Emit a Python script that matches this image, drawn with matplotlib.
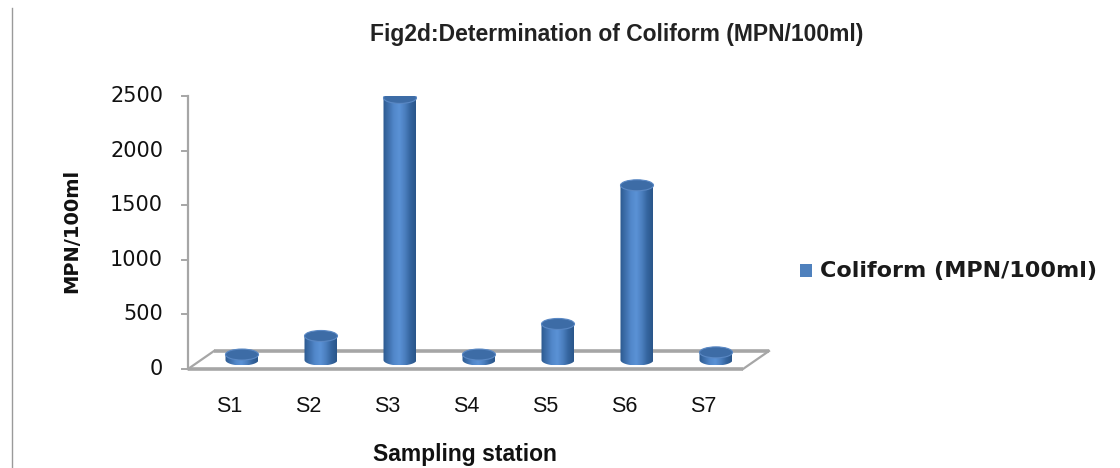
#!/usr/bin/env python3
# -*- coding: utf-8 -*-

# Import Python modules.
import matplotlib
matplotlib.use('Agg')
import matplotlib.pyplot as plt
import numpy as np
from matplotlib.colors import LinearSegmentedColormap
from matplotlib.patches import Polygon, Ellipse
from matplotlib.lines import Line2D


# Chart data.
stations = ['S1', 'S2', 'S3', 'S4', 'S5', 'S6', 'S7']
coliform = [50, 220, 2400, 50, 330, 1600, 70]
y_ticks = [0, 500, 1000, 1500, 2000, 2500]
title = 'Fig2d:Determination of Coliform (MPN/100ml)'
series_name = 'Coliform (MPN/100ml)'

TEXT_FONT = ['Liberation Sans', 'DejaVu Sans']
BAR_BLUE = '#4f81bd'

W, H = 1120, 468
fig = plt.figure(figsize=(W / 100, H / 100), dpi=100)

# Plot area laid out in pixels: y axis at x=188, 0 at y=369, 2500 at y=96.
step = 79.0                 # pixels between categories
x_first = 229.0             # pixel of first category (front plane)
x_left, x_right = 188.0, 790.0
y0_px, ytop_px = 369.0, 96.0
ax = fig.add_axes([x_left / W, (H - y0_px) / H,
                   (x_right - x_left) / W, (y0_px - ytop_px) / H])
xmin = (x_left - x_first) / step
xmax = (x_right - x_first) / step
ymax = 2500.0
per_px = ymax / (y0_px - ytop_px)

# 3-D depth of the floor.
dx = 26.0 / step
dy = 18.0 * per_px
floor_end = (743.0 - x_first) / step

grey = '#a6a6a6'
# Floor outline.
ax.plot([xmin, floor_end], [0, 0], color=grey, lw=2.6, clip_on=False,
        zorder=1, solid_capstyle='butt')
ax.plot([xmin + dx, floor_end + dx], [dy, dy], color=grey, lw=2.6,
        clip_on=False, zorder=1, solid_capstyle='butt')
ax.plot([xmin, xmin + dx], [0, dy], color=grey, lw=1.6, clip_on=False,
        zorder=1)
ax.plot([floor_end, floor_end + dx], [0, dy], color=grey, lw=1.6,
        clip_on=False, zorder=1)

# Value axis.
ax.plot([xmin, xmin], [0, ymax], color=grey, lw=1.6, clip_on=False,
        zorder=1)
for t in y_ticks:
    ax.plot([xmin - 6 / step, xmin], [t, t], color=grey, lw=1.4,
            clip_on=False, zorder=1)
    ax.text(xmin - 25 / step, t, str(t), ha='right', va='center',
            fontsize=15, color='#111111', family='DejaVu Sans')

# Cylinders.
body_cmap = LinearSegmentedColormap.from_list(
    'cyl', ['#2c5a90', '#3f70ad', '#5288cb', '#5b92d6', '#4b7fbf',
            '#35659f', '#2a568a'])
grad = np.linspace(0, 1, 64).reshape(1, -1)
w = 16.5 / step
h = 5.5 * per_px
theta = np.linspace(np.pi, 2 * np.pi, 60)
for i, v in enumerate(coliform):
    cx = i + dx / 2
    yb = dy / 2
    yt = v + dy / 2
    pts = [(cx - w, yt)]
    pts += list(zip(cx + w * np.cos(theta), yb + h * np.sin(theta)))
    pts += [(cx + w, yt)]
    body = Polygon(pts, closed=True, facecolor='none', edgecolor='none',
                   zorder=3)
    ax.add_patch(body)
    im = ax.imshow(grad, cmap=body_cmap, aspect='auto',
                   extent=[cx - w, cx + w, yb - h, yt], zorder=3,
                   interpolation='bilinear')
    im.set_clip_path(body)
    top = Ellipse((cx, yt), 2 * w, 2 * h, facecolor='#3d6ca6',
                  edgecolor='#5a88c4', lw=0.8, zorder=4)
    ax.add_patch(top)

# Category labels on the front edge.
for i, s in enumerate(stations):
    ax.text(i, -38 * per_px, s, ha='center', va='center', fontsize=15.5,
            color='#111111', family=TEXT_FONT)

ax.set_xlim(xmin, xmax)
ax.set_ylim(0, ymax)
ax.set_aspect('auto')
ax.axis('off')

# Titles and legend.
fig.text(617 / W, 1 - 35 / H, title, ha='center', va='center',
         fontsize=16.5, fontweight='bold', color='#222222', family=TEXT_FONT)
fig.text(72 / W, 1 - 231 / H, 'MPN/100ml', ha='center', va='center',
         rotation=90, fontsize=14, fontweight='bold', color='#111111',
         family='DejaVu Sans')
fig.text(465 / W, 1 - 455 / H, 'Sampling station', ha='center',
         va='center', fontsize=16.5, fontweight='bold', color='#111111',
         family=TEXT_FONT)
fig.patches.append(plt.Rectangle((800 / W, 1 - 277 / H), 12 / W, 13 / H,
                                 transform=fig.transFigure,
                                 facecolor=BAR_BLUE, edgecolor='none'))
fig.text(820 / W, 1 - 271 / H, series_name, ha='left', va='center',
         fontsize=16, fontweight='bold', color='#1a1a1a',
         family='DejaVu Sans')

# Thin border on the left of the frame.
fig.add_artist(Line2D([12 / W, 12 / W], [0, 1 - 8 / H],
                      transform=fig.transFigure, color='#9a9a9a', lw=1))

fig.savefig('out.png', dpi=100)
